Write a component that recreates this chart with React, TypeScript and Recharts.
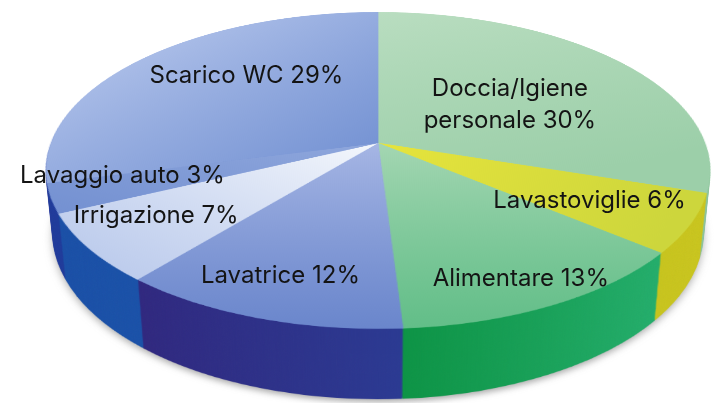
import React from 'react';
import { PieChart, Pie, Cell } from 'recharts';

// ---- data (clockwise from 12 o'clock, as drawn) ----
const categories = [
  'Doccia/Igiene personale',
  'Lavastoviglie',
  'Alimentare',
  'Lavatrice',
  'Irrigazione',
  'Lavaggio auto',
  'Scarico WC',
];
const percentages = [30, 6, 13, 12, 7, 3, 29];

// ---- colours ----
const topBack = ['#b9ddc0', '#e6e43c', '#a4d6b2', '#a6b6e4', '#f4f7fc', '#8fa7dc', '#bccbee'];
const topFront = ['#9ccfa9', '#cdd63c', '#62be88', '#6a86cc', '#b4c5ea', '#7390d1', '#6f8ed1'];
const sideA = ['#8cc49a', '#bfbd1c', '#0b9142', '#30287f', '#1a4fa6', '#1f3a9a', '#2a3aa0'];
const sideB = ['#8cc49a', '#c9c51e', '#24ad6b', '#2b3a92', '#1a56ac', '#2140a0', '#2a3aa0'];

// top-face gradient directions: [x1,y1,x2,y2]
const topDir = [
  [0, 0, 0.3, 1],
  [0, 0, 1, 0.3],
  [0, 0, 0, 1],
  [0, 0, 0, 1],
  [1, 0, 0, 1],
  [1, 0, 0, 1],
  [0, 0, 1, 1],
];

// ---- label layout ----
const labelAngleNudge = [-3.6, -0.9, -0.5, -1.2, -3.5, -5.3, -10.1];
const labelRadius = [0.5, 0.7, 0.85, 0.79, 0.76, 0.78, 0.65];
const labelWrap = [true, false, false, false, false, false, false];

const data = categories.map((name, i) => ({ name, value: percentages[i] }));

// ---- 3D geometry ----
const R = 327;
const TILT = 62;
const PERSP = 1668;
const CX = 378;
const CY = 143;
const DEPTH = 72;
const W = 680;
const COS_A = Math.cos((TILT * Math.PI) / 180);
const SIN_A = Math.sin((TILT * Math.PI) / 180);

type Kind = 'top' | 'side' | 'shadow';

function Layer({ depth, kind }: { depth: number; kind: Kind }) {
  const style: React.CSSProperties = {
    position: 'absolute',
    left: CX - W / 2,
    top: CY - W / 2,
    width: W,
    height: W,
    transformOrigin: `${W / 2}px ${W / 2}px`,
    transform: `perspective(${PERSP}px) rotateX(${TILT}deg) translateZ(${-depth}px)`,
    filter: kind === 'shadow' ? 'blur(4px)' : undefined,
    opacity: kind === 'shadow' ? 0.45 : 1,
  };
  return (
    <div style={style}>
      <PieChart width={W} height={W} margin={{ top: 0, right: 0, bottom: 0, left: 0 }}>
        <defs>
          {kind === 'top' &&
            topDir.map((d, i) => (
              <linearGradient key={i} id={`topg${i}`} x1={d[0]} y1={d[1]} x2={d[2]} y2={d[3]}>
                <stop offset="0%" stopColor={topBack[i]} />
                <stop offset="100%" stopColor={topFront[i]} />
              </linearGradient>
            ))}
          {kind === 'side' &&
            sideA.map((c, i) => (
              <linearGradient key={i} id={`sideg${i}`} x1={0} y1={0} x2={1} y2={0}>
                <stop offset="0%" stopColor={c} />
                <stop offset="100%" stopColor={sideB[i]} />
              </linearGradient>
            ))}
        </defs>
        <Pie
          data={data}
          dataKey="value"
          nameKey="name"
          cx={W / 2}
          cy={W / 2}
          innerRadius={0}
          outerRadius={R}
          startAngle={90}
          endAngle={-270}
          isAnimationActive={false}
          stroke="none"
        >
          {data.map((_, i) => {
            const fill =
              kind === 'top' ? `url(#topg${i})` : kind === 'side' ? `url(#sideg${i})` : '#444';
            return <Cell key={i} fill={fill} stroke={kind === 'top' ? fill : 'none'} strokeWidth={kind === 'top' ? 0.8 : 0} />;
          })}
        </Pie>
      </PieChart>
    </div>
  );
}

const renderLabel = (props: any) => {
  const { midAngle, cx, cy, index } = props;
  const theta = ((midAngle + labelAngleNudge[index]) * Math.PI) / 180;
  const r = labelRadius[index] * R;
  const X = r * Math.cos(theta);
  const Y = -r * Math.sin(theta);
  const scale = PERSP / (PERSP - Y * SIN_A);
  const xs = cx + X * scale;
  const ys = cy + Y * COS_A * scale;
  const name = categories[index];
  const pct = `${percentages[index]}%`;
  let lines: string[];
  if (labelWrap[index]) {
    const sp = name.indexOf(' ');
    lines = [name.slice(0, sp), `${name.slice(sp + 1)} ${pct}`];
  } else {
    lines = [`${name} ${pct}`];
  }
  const LH = 32;
  return (
    <g key={`lab${index}`}>
      {lines.map((ln, j) => (
        <text
          key={j}
          x={xs}
          y={ys + (j - (lines.length - 1) / 2) * LH}
          textAnchor="middle"
          dominantBaseline="central"
          fontFamily="Inter, 'Noto Sans', sans-serif"
          fontSize={24}
          fill="#141414"
        >
          {ln}
        </text>
      ))}
    </g>
  );
};

export default function App() {
  const sideDepths: number[] = [];
  for (let d = DEPTH; d >= 1; d -= 1) sideDepths.push(d);
  return (
    <div
      style={{
        position: 'absolute',
        left: 0,
        top: 0,
        width: 720,
        height: 403,
        overflow: 'hidden',
        background: '#ffffff',
      }}
    >
      <Layer depth={DEPTH + 3} kind="shadow" />
      {sideDepths.map((d) => (
        <Layer key={d} depth={d} kind="side" />
      ))}
      <Layer depth={0} kind="top" />
      <div style={{ position: 'absolute', left: 0, top: 0, width: 720, height: 403 }}>
        <PieChart width={720} height={403} margin={{ top: 0, right: 0, bottom: 0, left: 0 }}>
          <Pie
            data={data}
            dataKey="value"
            nameKey="name"
            cx={CX}
            cy={CY}
            innerRadius={0}
            outerRadius={R}
            startAngle={90}
            endAngle={-270}
            isAnimationActive={false}
            fill="none"
            stroke="none"
            labelLine={false}
            label={renderLabel}
          >
            {data.map((_, i) => (
              <Cell key={i} fill="none" stroke="none" />
            ))}
          </Pie>
        </PieChart>
      </div>
    </div>
  );
}
